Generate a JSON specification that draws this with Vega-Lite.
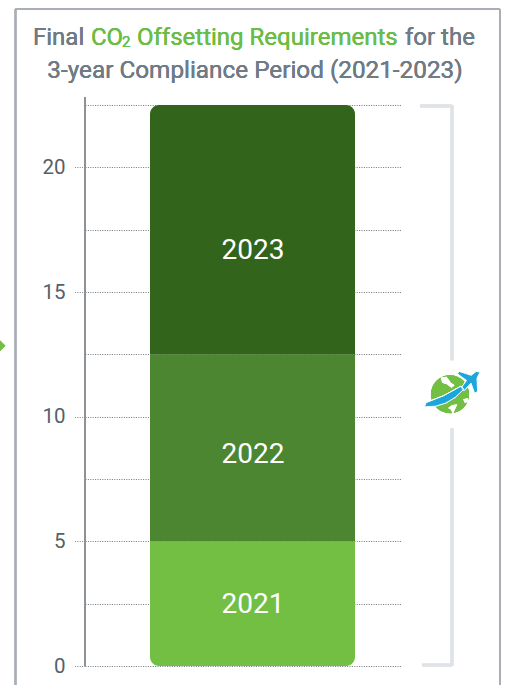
{"$schema":"https://vega.github.io/schema/vega-lite/v6.json","autosize":{"type":"none"},"padding":{"left":85,"top":105,"right":106,"bottom":19},"width":316,"height":561,"background":"white","config":{"view":{"stroke":null},"font":"Roboto"},
"datasets":{"bars":[{"year":"2021","from":0,"to":5,"label_at":2.46},{"year":"2022","from":5,"to":12.5,"label_at":8.46},{"year":"2023","from":12.5,"to":22.5,"label_at":16.66}]},
"data":{"name":"bars"},
"layer":[
{"mark":{"type":"rule","color":"#ffffff","opacity":0},"encoding":{"y":{"field":"from","type":"quantitative","scale":{"domain":[0,22.5],"nice":false,"zero":false},"axis":{"values":[0,2.5,5,7.5,10,12.5,15,17.5,20,22.5],"title":null,"domain":false,"grid":true,"gridColor":"#6f757a","gridDash":[1,1.4],"gridWidth":1,"tickColor":"#7d8388","tickDash":[1,1.4],"tickSize":11,"tickOpacity":{"expr":"datum.value % 5 === 0 ? 1 : 0"},"labelExpr":"datum.value % 5 === 0 ? datum.label : ''","labelFontSize":20.5,"labelColor":"#55606a","labelPadding":9,"labelFont":"Roboto","labelOverlap":false,"labelBound":false,"labelFlush":false}},"x":{"datum":0,"type":"quantitative","scale":{"domain":[0,316],"nice":false,"zero":false},"axis":null}}},
{"mark":{"type":"rule","color":"#8b9095","strokeWidth":1.5},"encoding":{"x":{"datum":0},"y":{"datum":0},"y2":{"datum":22.82}}},
{"transform":[{"filter":"datum.year==='2021'"}],"mark":{"type":"bar","color":"#72bf44","cornerRadiusBottomLeft":9,"cornerRadiusBottomRight":9},"encoding":{"x":{"datum":65},"x2":{"datum":270},"y":{"field":"from","type":"quantitative"},"y2":{"field":"to"}}},
{"transform":[{"filter":"datum.year==='2022'"}],"mark":{"type":"bar","color":"#4d8630"},"encoding":{"x":{"datum":65},"x2":{"datum":270},"y":{"field":"from","type":"quantitative"},"y2":{"field":"to"}}},
{"transform":[{"filter":"datum.year==='2023'"}],"mark":{"type":"bar","color":"#32641c","cornerRadiusTopLeft":9,"cornerRadiusTopRight":9},"encoding":{"x":{"datum":65},"x2":{"datum":270},"y":{"field":"from","type":"quantitative"},"y2":{"field":"to"}}},
{"mark":{"type":"text","color":"white","fontSize":28,"font":"Roboto","align":"center","baseline":"middle"},"encoding":{"x":{"datum":168},"y":{"field":"label_at","type":"quantitative"},"text":{"field":"year"}}},
{"mark":{"type":"rule","color":"#a9afb5","strokeWidth":2},"encoding":{"x":{"datum":-69.5},"y":{"datum":-0.8},"y2":{"datum":26.35}}},
{"mark":{"type":"rule","color":"#a9afb5","strokeWidth":2},"encoding":{"x":{"datum":415},"y":{"datum":-0.8},"y2":{"datum":26.35}}},
{"mark":{"type":"rule","color":"#a9afb5","strokeWidth":2},"encoding":{"x":{"datum":-69.5},"x2":{"datum":415},"y":{"datum":26.35}}},
{"mark":{"type":"rule","color":"#dfe3e8","strokeWidth":3},"encoding":{"x":{"datum":335},"x2":{"datum":367},"y":{"datum":22.46}}},
{"mark":{"type":"rule","color":"#dfe3e8","strokeWidth":3},"encoding":{"x":{"datum":337},"x2":{"datum":367},"y":{"datum":0.04}}},
{"mark":{"type":"rule","color":"#dfe3e8","strokeWidth":3},"encoding":{"x":{"datum":367},"y":{"datum":12.26},"y2":{"datum":22.5}}},
{"mark":{"type":"rule","color":"#dfe3e8","strokeWidth":3},"encoding":{"x":{"datum":367},"y":{"datum":0},"y2":{"datum":9.53}}},
{"mark":{"type":"point","filled":true,"shape":"circle","size":1450,"color":"#72bf44","opacity":1},"encoding":{"x":{"datum":365},"y":{"datum":10.9}}},
{"mark":{"type":"point","filled":true,"size":3600,"color":"#ffffff","opacity":1,"shape":"M-.3 -.55 L-.12 -.58 L.03 -.38 L.15 -.3 L.05 -.22 L-.1 -.33 L-.26 -.38 Z M-.06 .46 L.08 .36 L.24 .34 L.18 .47 L.1 .64 L.02 .5 Z M.44 .17 L.6 .13 L.61 .24 L.5 .29 Z"},"encoding":{"x":{"datum":365},"y":{"datum":10.9}}},
{"mark":{"type":"point","filled":true,"size":3600,"color":"#1ba6dc","stroke":"#ffffff","strokeWidth":1,"opacity":1,"shape":"M-.85 .42 Q-.08 .46 .46 -.17 L.37 -.27 Q-.22 .1 -.8 .28 Z M1 -.74 L.87 -.76 L.71 -.63 L.31 -.76 L.25 -.68 L.55 -.46 L.38 -.22 L.47 -.12 L.7 -.37 L.82 -.03 L.92 -.09 L.9 -.53 Z"},"encoding":{"x":{"datum":365},"y":{"datum":10.9}}},
{"mark":{"type":"point","filled":true,"shape":"diamond","size":110,"color":"#72bf44","opacity":1},"encoding":{"x":{"datum":-85},"y":{"datum":12.84}}},
{"mark":{"type":"text","text":"Final","color":"#6f7b85","fontSize":24,"align":"left","baseline":"middle","font":"Roboto"},"encoding":{"x":{"datum":-52},"y":{"datum":25.19}}},
{"mark":{"type":"text","text":"CO","color":"#6cbd45","fontSize":24,"align":"left","baseline":"middle","font":"Roboto"},"encoding":{"x":{"datum":6},"y":{"datum":25.19}}},
{"mark":{"type":"text","text":"2","color":"#6cbd45","fontSize":15,"align":"left","baseline":"middle","font":"Roboto"},"encoding":{"x":{"datum":37},"y":{"datum":25.02}}},
{"mark":{"type":"text","text":"Offsetting Requirements","color":"#6cbd45","fontSize":24,"align":"left","baseline":"middle","font":"Roboto"},"encoding":{"x":{"datum":52},"y":{"datum":25.19}}},
{"mark":{"type":"text","text":"for the","color":"#6f7b85","fontSize":24,"align":"left","baseline":"middle","font":"Roboto"},"encoding":{"x":{"datum":320},"y":{"datum":25.19}}},
{"mark":{"type":"text","text":"3-year Compliance Period (2021-2023)","color":"#6f7b85","fontSize":24.3,"align":"center","baseline":"middle","font":"Roboto"},"encoding":{"x":{"datum":170},"y":{"datum":23.87}}}
]}
